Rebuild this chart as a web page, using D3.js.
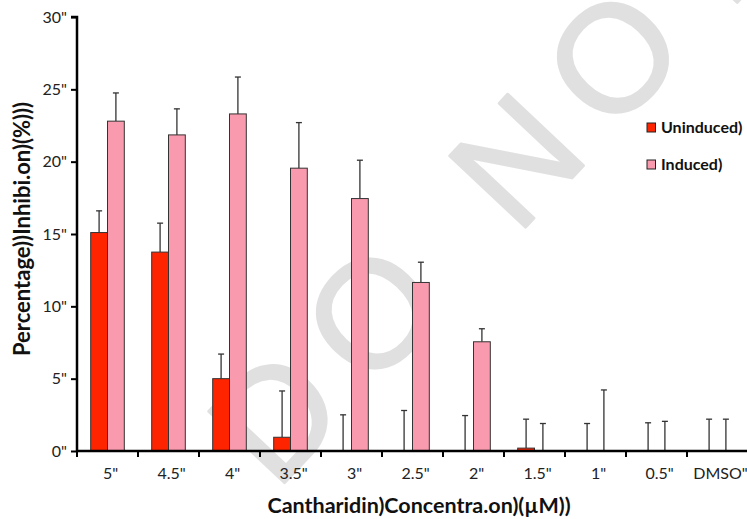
<!DOCTYPE html>
<html><head><meta charset="utf-8">
<script src="https://cdn.jsdelivr.net/npm/d3@7/dist/d3.min.js"></script>
<style>body{margin:0;background:#fff}svg{display:block}</style>
</head><body><svg id="c" width="747" height="519"></svg>
<script>
const categories = ['5"', '4.5"', '4"', '3.5"', '3"', '2.5"', '2"', '1.5"', '1"', '0.5"', 'DMSO"'];
const seriesNames = ['Uninduced)', 'Induced)'];
const uninduced = [15.1, 13.75, 5.0, 0.95, 0, 0, 0, 0.2, 0, 0, 0];
const uninducedErr = [1.5, 2.0, 1.7, 3.2, 2.5, 2.8, 2.45, 2.0, 1.9, 1.95, 2.2];
const induced = [22.8, 21.85, 23.3, 19.55, 17.45, 11.65, 7.55, 0, 0, 0, 0];
const inducedErr = [1.95, 1.8, 2.55, 3.15, 2.65, 1.4, 0.9, 1.9, 4.22, 2.05, 2.2];
const yTicks = [0, 5, 10, 15, 20, 25, 30];
const colors = ['#ff2400', '#fa9aae'];

const svg = d3.select('#c');
const fontF = 'Lato, "Open Sans", sans-serif';
const x0 = 77, x1 = 748, yTop = 17, yBot = 451;

// watermark
svg.append('text')
  .attr('transform', 'translate(276,492) rotate(-46.7)')
  .attr('font-family', '"Liberation Sans", Arial, sans-serif')
  .attr('font-size', 152)
  .attr('letter-spacing', 27)
  .attr('fill', '#e0e0e0')
  .attr('stroke', '#e0e0e0').attr('stroke-width', 2.5).attr('stroke-linejoin', 'round')
  .text('DO NOT');

const x = d3.scaleBand().domain(categories).range([x0, x1]).paddingInner(0).paddingOuter(0);
const bw = x.bandwidth();
const inner = d3.scaleBand().domain([0, 1]).range([0, bw]).paddingOuter(0.815).paddingInner(0);
const y = d3.scaleLinear().domain([0, 30]).range([yBot, yTop]);

const data = categories.map((c, i) => ({c, vals: [uninduced[i], induced[i]], errs: [uninducedErr[i], inducedErr[i]]}));

const g = svg.append('g');
const grp = g.selectAll('g.cat').data(data).enter().append('g').attr('transform', d => `translate(${x(d.c)},0)`);

// error bars
[0, 1].forEach(s => {
  const cx = inner(s) + inner.bandwidth() / 2;
  grp.append('line')
    .attr('x1', cx).attr('x2', cx)
    .attr('y1', d => y(d.vals[s])).attr('y2', d => y(d.vals[s] + d.errs[s]))
    .attr('stroke', '#333').attr('stroke-width', 1.3);
  grp.append('line')
    .attr('x1', cx - 3).attr('x2', cx + 3)
    .attr('y1', d => y(d.vals[s] + d.errs[s])).attr('y2', d => y(d.vals[s] + d.errs[s]))
    .attr('stroke', '#333').attr('stroke-width', 1.3);
});
// bars
[0, 1].forEach(s => {
  grp.filter(d => d.vals[s] > 0).append('rect')
    .attr('x', inner(s)).attr('width', inner.bandwidth())
    .attr('y', d => y(d.vals[s])).attr('height', d => y(0) - y(d.vals[s]))
    .attr('fill', colors[s]).attr('stroke', '#333').attr('stroke-width', 1);
});

// axes
const yAxis = d3.axisLeft(y).tickValues(yTicks).tickFormat(d => d + '"').tickSize(6).tickPadding(4);
const ya = svg.append('g').attr('transform', `translate(${x0},0)`).call(yAxis);
ya.select('.domain').attr('stroke', '#000').attr('stroke-width', 2.5).attr('d', `M-6,${yTop}H0V${yBot}`);
ya.selectAll('.tick line').attr('stroke', '#000').attr('stroke-width', 2);
ya.selectAll('.tick text').attr('font-family', fontF).attr('font-size', 16).attr('fill', '#222');

const xAxis = d3.axisBottom(x).tickSize(0).tickPadding(17);
const xa = svg.append('g').attr('transform', `translate(0,${yBot})`).call(xAxis);
xa.select('.domain').attr('stroke', '#000').attr('stroke-width', 2.5).attr('d', `M${x0},0H${x1}`);
xa.selectAll('.tick text').attr('font-family', fontF).attr('font-size', 16).attr('fill', '#222').attr('dx', 3);
xa.selectAll('line.bt').data(categories).enter().append('line').attr('class', 'bt')
  .attr('x1', d => x(d)).attr('x2', d => x(d)).attr('y1', 0).attr('y2', 6)
  .attr('stroke', '#000').attr('stroke-width', 2);

// titles
svg.append('text').attr('x', 419).attr('y', 513).attr('text-anchor', 'middle')
  .attr('font-family', fontF).attr('font-size', 21.5).attr('font-weight', 'bold').attr('fill', '#111')
  .text('Cantharidin)Concentra.on)(µM))');
svg.append('text').attr('transform', 'translate(30,229) rotate(-90)').attr('text-anchor', 'middle')
  .attr('font-family', fontF).attr('font-size', 22).attr('font-weight', 'bold').attr('fill', '#111')
  .text('Percentage))Inhibi.on)(%)))');

// legend
const leg = svg.append('g');
seriesNames.forEach((n, i) => {
  const ly = 123 + i * 37;
  leg.append('rect').attr('x', 647).attr('y', ly).attr('width', 8.5).attr('height', 9)
    .attr('fill', colors[i]).attr('stroke', '#222').attr('stroke-width', 1);
  leg.append('text').attr('x', 661).attr('y', ly + 9.5).attr('font-family', fontF)
    .attr('font-size', 16).attr('font-weight', 'bold').attr('fill', '#111').text(n);
});
</script></body></html>
